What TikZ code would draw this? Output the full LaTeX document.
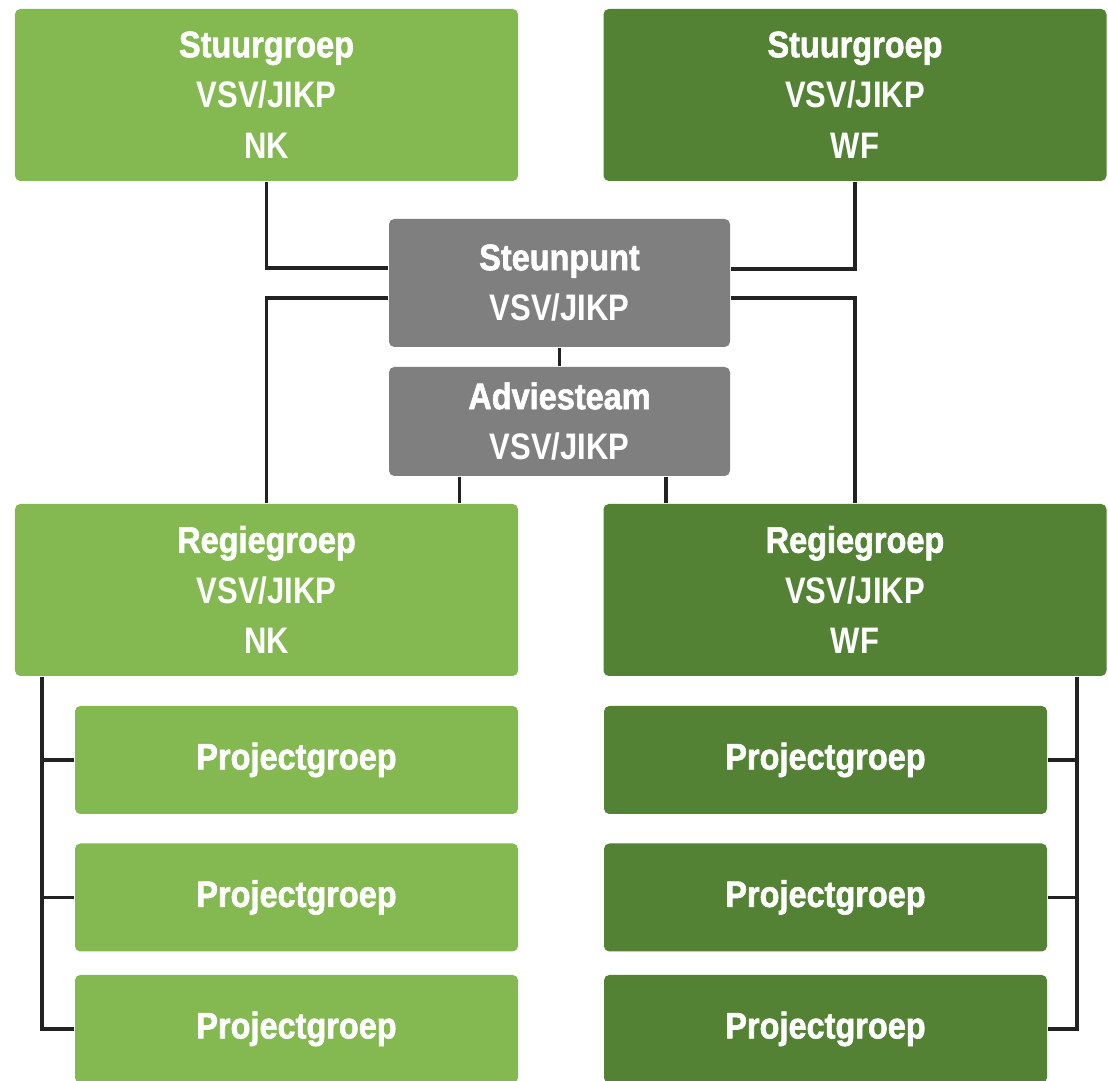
\documentclass[tikz,border=0pt]{standalone}
\usepackage{fontspec}
\setmainfont{Liberation Sans}[FakeStretch=0.84]
\newfontfamily\heavy{Liberation Sans Bold}[FakeStretch=0.88, FakeBold=1.6]
\usepackage{tikz}
\usetikzlibrary{positioning,calc}
\definecolor{lightgrn}{HTML}{83B950}
\definecolor{darkgrn}{HTML}{548235}
\definecolor{boxgray}{HTML}{7F7F7F}
\definecolor{linegray}{HTML}{222222}
\newcommand{\boxname}[1]{{\heavy #1}}

\begin{document}
\begin{tikzpicture}[
    box/.style={rectangle, rounded corners=1.5pt, text=white, align=center, inner sep=0pt,
        font=\fontsize{10.5}{14.4}\selectfont\bfseries},
    light/.style={box, fill=lightgrn},
    dark/.style={box, fill=darkgrn},
    grey/.style={box, fill=boxgray, minimum width=3.41cm},
    big/.style={minimum width=5.03cm, minimum height=1.72cm},
    proj/.style={minimum width=4.43cm, minimum height=1.08cm},
    link/.style={draw=linegray, line width=1.1pt}
]
    \useasboundingbox[fill=white] (0,0) rectangle (11.08,-10.81);

    % Stuurgroepen
    \node[light, big] (stuurNK) at (2.665,-0.95) {\boxname{Stuurgroep}\\VSV/JIKP\\NK};
    \node[dark, big] (stuurWF) at (8.55,-0.95) {\boxname{Stuurgroep}\\VSV/JIKP\\WF};

    % Steunpunt and Adviesteam
    \node[grey, minimum height=1.28cm] (steun) at (5.595,-2.83) {\boxname{Steunpunt}\\VSV/JIKP};
    \node[grey, minimum height=1.09cm] (advies) at (5.595,-4.215) {\boxname{Adviesteam}\\VSV/JIKP};

    % Regiegroepen
    \node[light, big] (regieNK) at (2.665,-5.90) {\boxname{Regiegroep}\\VSV/JIKP\\NK};
    \node[dark, big] (regieWF) at (8.55,-5.90) {\boxname{Regiegroep}\\VSV/JIKP\\WF};

    % Projectgroepen
    \foreach \i/\y in {1/-7.60, 2/-8.975, 3/-10.29} {
        \node[light, proj] (projNK\i) at (2.965,\y) {\boxname{Projectgroep}};
        \node[dark, proj] (projWF\i) at (8.255,\y) {\boxname{Projectgroep}};
    }

    % Connectors
    \draw[link] (stuurNK.south) |- ([yshift=0.15cm]steun.west);
    \draw[link] ([yshift=-0.15cm]steun.west) -| (regieNK.north);
    \draw[link] (stuurWF.south) |- ([yshift=0.14cm]steun.east);
    \draw[link] ([yshift=-0.15cm]steun.east) -| (regieWF.north);
    \draw[link] (steun.south) -- (advies.north);
    \draw[link] ([xshift=-1cm]advies.south) -- ([xshift=-1cm]advies.south |- regieNK.north);
    \draw[link] ([xshift=1.065cm]advies.south) -- ([xshift=1.065cm]advies.south |- regieWF.north);

    % Busses to the Projectgroepen
    \coordinate (busNK) at ([xshift=0.28cm]regieNK.south west);
    \draw[link] (busNK) |- (projNK3.west);
    \foreach \i in {1,2}
        \draw[link] (projNK\i.west) -- (projNK\i.west -| busNK);
    \coordinate (busWF) at ([xshift=-0.30cm]regieWF.south east);
    \draw[link] (busWF) |- (projWF3.east);
    \foreach \i in {1,2}
        \draw[link] (projWF\i.east) -- (projWF\i.east -| busWF);
\end{tikzpicture}
\end{document}
